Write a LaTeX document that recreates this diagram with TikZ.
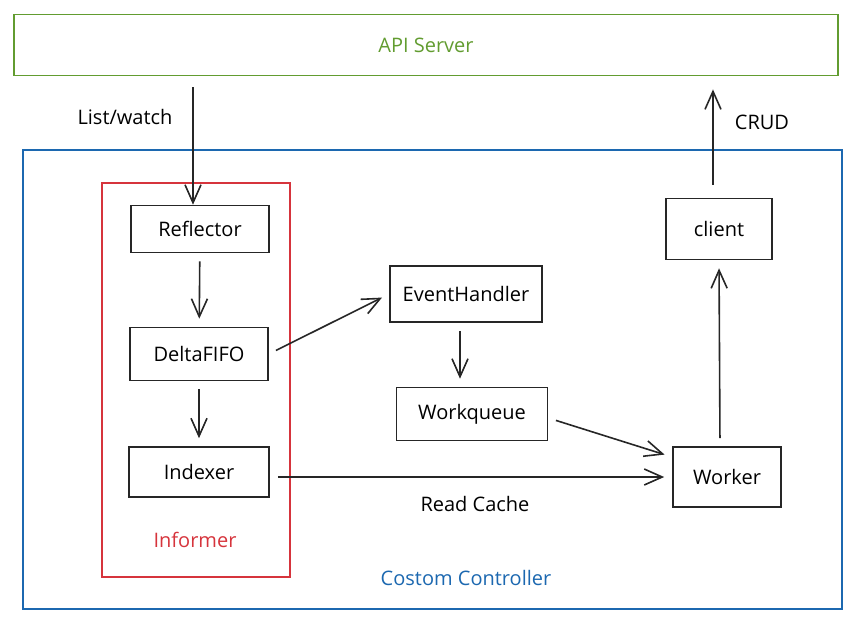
\documentclass[tikz,border=0pt]{standalone}
\usepackage{fontspec}
\setmainfont{Open Sans}
\usepackage{xcolor}
\usetikzlibrary{arrows.meta,positioning,calc}
\definecolor{apigreen}  {RGB}{98,156,48}
\definecolor{ctrlblue}  {RGB}{28,104,176}
\definecolor{informred} {RGB}{214,52,60}

\begin{document}
\begin{tikzpicture}[
  x=0.5pt, y=-0.5pt,
  font=\fontsize{10}{12}\selectfont, >={Straight Barb[length=9pt,width=8pt]},
  blk/.style={draw=black!85, line width=0.8pt, inner sep=0pt,
    minimum width=69pt, minimum height=25pt},
  flow/.style={->, line width=0.8pt, draw=black!85, shorten <=4pt, shorten >=4pt},
]
\useasboundingbox (0,0) rectangle (862,622);

% Containers
\node[draw=apigreen, line width=0.9pt, minimum width=412pt, minimum height=30.5pt,
  text=apigreen] (api) at (426,45) {API Server};
\draw[ctrlblue, line width=0.9pt] (23,150) rectangle (842,609);
\node[text=ctrlblue] (ctrllbl) at (466,578) {Costom Controller};
\draw[informred, line width=0.9pt] (102,183) rectangle (290,577);
\node[text=informred] (inflbl) at (195,540) {Informer};

% Informer parts
\node[blk, minimum height=23.5pt] (refl)  at (200,229) {Reflector};
\node[blk, minimum height=26.5pt] (delta) at (199,354) {DeltaFIFO};
\node[blk, minimum width=70pt]    (idx)   at (199,472) {Indexer};

% Controller parts
\node[blk, minimum width=76pt, minimum height=28pt]   (evh) at (466,294) {EventHandler};
\node[blk, minimum width=75.5pt, minimum height=26.5pt] (wq) at (472,414) {Workqueue};
\node[blk, minimum width=53pt, minimum height=30.5pt] (cl)  at (719,229) {client};
\node[blk, minimum width=54pt, minimum height=30pt]   (wk)  at (727,477) {Worker};

% API traffic
\draw[flow, shorten <=5.5pt, shorten >=0pt]
  ([xshift=-3.5pt]api.south -| refl.north) -- ([xshift=-3.5pt]refl.north);
\node (lwlbl) at (125,117) {List/watch};
\draw[flow, shorten <=6.5pt, shorten >=6.5pt]
  ([xshift=-3pt]cl.north) -- ([xshift=-3pt]cl.north |- api.south);
\node (crudlbl) at (762,122) {CRUD};

% Internal flow
\draw[flow] (refl) -- (delta);
\draw[flow] (delta) -- (idx);
\draw[flow] (delta.east) -- (evh.west);
\draw[flow] ([xshift=-3pt]evh.south) -- ([xshift=-6pt]wq.north);
\draw[flow] ([yshift=-2pt]wq.east) -- ([yshift=10pt]wk.west);
\draw[flow] ([yshift=-2.5pt]idx.east) -- (wk.west)
  node[midway, below=6pt, xshift=2pt] (rclbl) {Read Cache};
\draw[flow] ([xshift=-3.5pt]wk.north) -- (cl.south);

\end{tikzpicture}
\end{document}
